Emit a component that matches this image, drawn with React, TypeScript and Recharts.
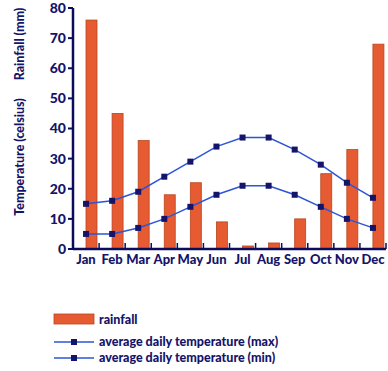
import React from 'react';
import { ComposedChart, Bar, Line, XAxis, YAxis, Legend } from 'recharts';

const months = ['Jan', 'Feb', 'Mar', 'Apr', 'May', 'Jun', 'Jul', 'Aug', 'Sep', 'Oct', 'Nov', 'Dec'];
const rainfall = [76, 45, 36, 18, 22, 9, 1, 2, 10, 25, 33, 68];
const tempMax = [15, 16, 19, 24, 29, 34, 37, 37, 33, 28, 22, 17];
const tempMin = [5, 5, 7, 10, 14, 18, 21, 21, 18, 14, 10, 7];
const yTicks = [0, 10, 20, 30, 40, 50, 60, 70, 80];

const data = months.map((m, i) => ({ month: m, rainfall: rainfall[i], max: tempMax[i], min: tempMin[i] }));

const NAVY = '#14146a';
const AXIS = '#0c0c5c';
const LINE = '#2b55d6';
const BAR = '#e65b32';
const BAR_EDGE = '#b8461f';
const FONT = 'Lato, "Open Sans", sans-serif';
const W = 900;

const BarShape = (props: any) => {
  const { x, y, width, height } = props;
  if (!height || height <= 0) return null;
  return <rect x={x + 5} y={y} width={width} height={height} fill={BAR} stroke={BAR_EDGE} strokeWidth={0.8} />;
};

const SquareDot = (props: any) => {
  const { cx, cy } = props;
  if (cx == null || cy == null) return null;
  return <rect x={cx - 3} y={cy - 3} width={6} height={6} fill={NAVY} />;
};

const XTick = (props: any) => {
  const { x, y, payload } = props;
  const axisY = y - 4;
  const half = 13.05;
  return (
    <g>
      <line x1={x + half} y1={axisY} x2={x + half} y2={axisY - 6} stroke={AXIS} strokeWidth={1.5} />
      <text x={x} y={y} dy={11} textAnchor="middle" fill={NAVY} fontFamily={FONT} fontWeight={W} fontSize={13}>
        {payload.value}
      </text>
    </g>
  );
};

const YLabels = () => {
  return (
    <g>
      <text transform="translate(24,44) rotate(-90)" textAnchor="middle" fill={NAVY} fontFamily={FONT} fontWeight={W} fontSize={12.5}>
        Rainfall (mm)
      </text>
      <text transform="translate(24,157) rotate(-90)" textAnchor="middle" fill={NAVY} fontFamily={FONT} fontWeight={W} fontSize={12.5}>
        Temperature (celsius)
      </text>
    </g>
  );
};

const LegendContent = () => (
  <svg width={388} height={71} style={{ display: 'block' }}>
    <rect x={54} y={14} width={40} height={10} fill={BAR} stroke={BAR_EDGE} strokeWidth={0.8} />
    <text x={99} y={24} fill={NAVY} fontFamily={FONT} fontWeight={W} fontSize={12.5}>rainfall</text>
    <line x1={54} y1={42} x2={94} y2={42} stroke={LINE} strokeWidth={1.5} />
    <rect x={71} y={39} width={6} height={6} fill={NAVY} />
    <text x={99} y={46} fill={NAVY} fontFamily={FONT} fontWeight={W} fontSize={12.5}>average daily temperature (max)</text>
    <line x1={54} y1={58} x2={94} y2={58} stroke={LINE} strokeWidth={1.5} />
    <rect x={71} y={55} width={6} height={6} fill={NAVY} />
    <text x={99} y={62} fill={NAVY} fontFamily={FONT} fontWeight={W} fontSize={12.5}>average daily temperature (min)</text>
  </svg>
);

export default function App() {
  return (
    <div style={{ position: 'absolute', left: 0, top: 0, width: 388, height: 371, background: '#fff' }}>
      <ComposedChart width={388} height={371} data={data} margin={{ top: 8, right: 2, left: 33, bottom: 92 }} barSize={11}>
        <XAxis
          dataKey="month"
          height={30}
          tickSize={0}
          tickMargin={4}
          tickLine={false}
          axisLine={{ stroke: AXIS, strokeWidth: 2.5 }}
          tick={<XTick />}
          interval={0}
        />
        <YAxis
          width={40}
          domain={[0, 80]}
          ticks={yTicks}
          tickSize={5}
          tickMargin={2}
          interval={0}
          axisLine={{ stroke: AXIS, strokeWidth: 2.5 }}
          tickLine={{ stroke: AXIS, strokeWidth: 2 }}
          tick={{ fill: NAVY, fontFamily: FONT, fontWeight: W, fontSize: 14 }}
          label={{ content: <YLabels /> }}
        />
        <Bar dataKey="rainfall" shape={<BarShape />} isAnimationActive={false} />
        <Line dataKey="max" type="linear" stroke={LINE} strokeWidth={1.5} dot={<SquareDot />} activeDot={false} isAnimationActive={false} />
        <Line dataKey="min" type="linear" stroke={LINE} strokeWidth={1.5} dot={<SquareDot />} activeDot={false} isAnimationActive={false} />
        <Legend
          verticalAlign="bottom"
          content={<LegendContent />}
          wrapperStyle={{ left: 0, top: 300, bottom: 'auto', width: 388, height: 0 }}
        />
      </ComposedChart>
    </div>
  );
}
